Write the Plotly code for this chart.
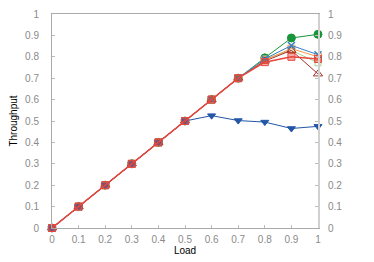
import plotly.graph_objects as go

load = [0, 0.1, 0.2, 0.3, 0.4, 0.5, 0.6, 0.7, 0.8, 0.9, 1.0]
base = [0, 0.1, 0.2, 0.3, 0.4, 0.5, 0.6, 0.7]
blue_tri = [0, 0.1, 0.2, 0.3, 0.4, 0.5, 0.525, 0.502, 0.495, 0.465, 0.475]
green = base + [0.795, 0.888, 0.905]
blue_x = base + [0.79, 0.853, 0.81]
orange = base + [0.785, 0.838, 0.80]
light_green = base + [0.79, 0.83, 0.772]
dark_red = base + [0.78, 0.83, 0.72]
red = base + [0.775, 0.80, 0.79]

yticks = [0, 0.1, 0.2, 0.3, 0.4, 0.5, 0.6, 0.7, 0.8, 0.9, 1]
xticks = [0, 0.1, 0.2, 0.3, 0.4, 0.5, 0.6, 0.7, 0.8, 0.9, 1]

fig = go.Figure()

def add(y, color, symbol, size, fill=None, width=1, lw=1):
    fig.add_trace(go.Scatter(
        x=load, y=y, mode="lines+markers",
        line=dict(color=color, width=width),
        marker=dict(symbol=symbol, size=size, color=fill if fill else color,
                    line=dict(color=color, width=lw)),
        showlegend=False, cliponaxis=False))

add(green, "#17953a", "circle", 8)
add(light_green, "#a9d18e", "square", 6, fill="rgba(255,255,255,0)")
add(orange, "#f29a4a", "square", 7, fill="rgba(255,255,255,0)")
add(dark_red, "#a8322a", "triangle-up", 8, fill="rgba(255,255,255,0)")
add(blue_x, "#3a7fc6", "x-thin", 7, lw=1.5)
add(blue_tri, "#2356a6", "triangle-down", 7)
add(red, "#e8463c", "square", 7, fill="rgba(232,70,60,0.45)", width=1.5, lw=1)

# invisible companion trace so the right-hand axis is drawn
fig.add_trace(go.Scatter(x=load, y=red, yaxis="y2", mode="lines",
                         line=dict(width=0), opacity=0, hoverinfo="skip",
                         showlegend=False))

tickfont = dict(family="Liberation Sans, Arial, sans-serif", size=10, color="#8a8a8a")
titlefont = dict(family="Liberation Sans, Arial, sans-serif", size=10, color="black")

fig.update_layout(
    width=366, height=254,
    margin=dict(l=44, r=56, t=6, b=34),
    plot_bgcolor="white", paper_bgcolor="white",
    xaxis=dict(range=[0, 1], tickvals=xticks, ticks="inside", ticklen=3,
               tickcolor="#bbbbbb", showline=True, linecolor="#aaaaaa", linewidth=1,
               mirror=True, showgrid=False, zeroline=False, tickfont=tickfont,
               ticklabelstandoff=2, automargin=False,
               title=dict(text="Load", font=titlefont, standoff=2)),
    yaxis=dict(range=[0, 1], tickvals=yticks, ticks="inside", ticklen=3,
               tickcolor="#bbbbbb", showline=True, linecolor="#aaaaaa", linewidth=1,
               showgrid=False, zeroline=False, tickfont=tickfont, ticklabelstandoff=10,
               automargin=False,
               title=dict(text="Throughput", font=titlefont, standoff=17)),
    yaxis2=dict(range=[0, 1], tickvals=yticks, overlaying="y", side="right",
                ticks="inside", ticklen=3, tickcolor="#bbbbbb", showline=True,
                linecolor="#d0d0d0", linewidth=2, showgrid=False, zeroline=False,
                tickfont=tickfont, ticklabelstandoff=6, automargin=False),
)

fig.write_html("out.html")
